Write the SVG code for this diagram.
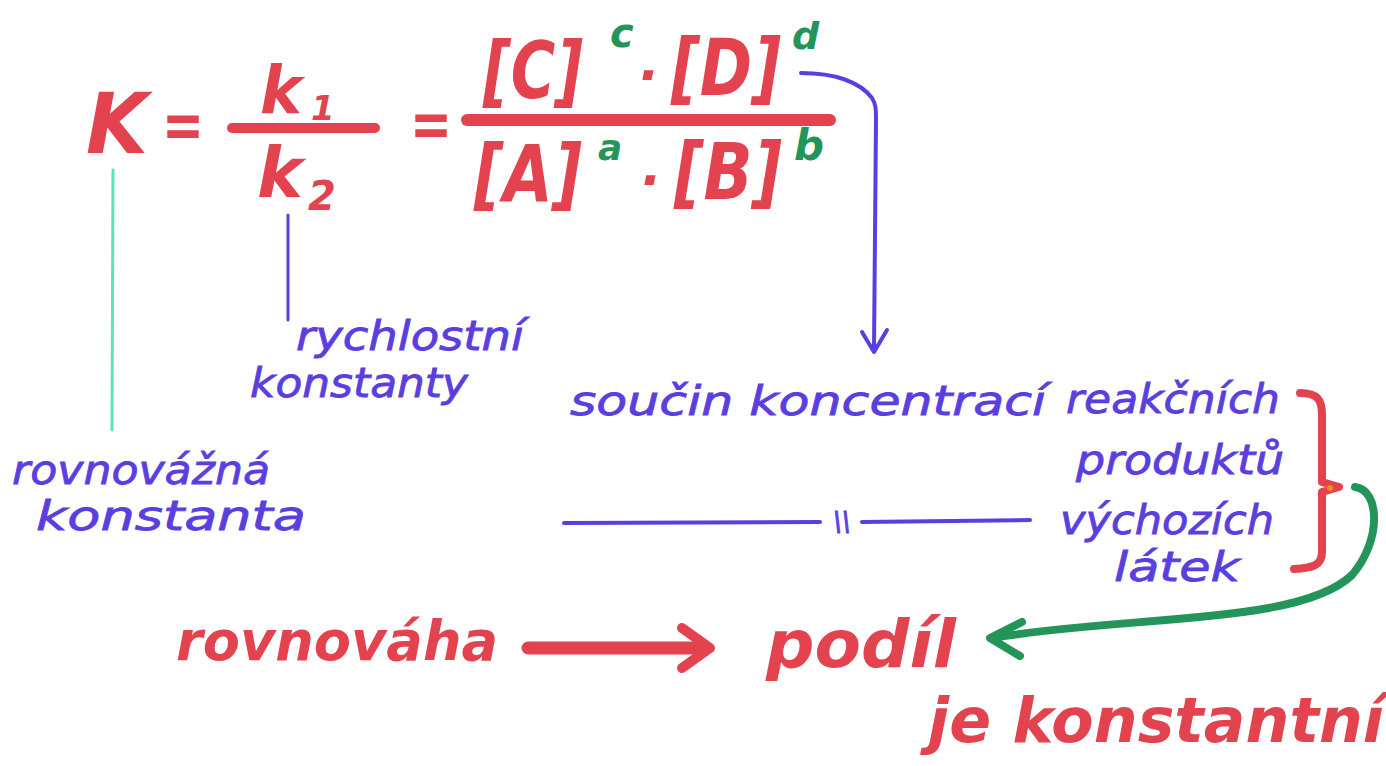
<svg xmlns="http://www.w3.org/2000/svg" width="1386" height="766" viewBox="0 0 1386 766">
<defs>
<style>
.red{fill:#e2434f;font-family:"DejaVu Sans",sans-serif;font-weight:bold;font-style:italic}
.grn{fill:#24955a;font-family:"DejaVu Sans",sans-serif;font-weight:bold;font-style:italic}
.blu{fill:#5a3ee0;font-family:"DejaVu Sans",sans-serif;font-style:italic;stroke:#5a3ee0;stroke-width:0.8}
.ln{fill:none;stroke-linecap:round;stroke-linejoin:round}
.rl{stroke:#e2434f}
.bl{stroke:#5a3ee0}
.gl{stroke:#24955a}
</style>
</defs>
<rect width="1386" height="766" fill="#ffffff"/>

<g id="formula">
<text class="red" x="86" y="153" font-size="84" textLength="62" lengthAdjust="spacingAndGlyphs">K</text>
<text class="red" x="162" y="148" font-size="66" textLength="42" lengthAdjust="spacingAndGlyphs">=</text>
<text class="red" x="260" y="113" font-size="66" textLength="42" lengthAdjust="spacingAndGlyphs">k</text>
<text class="red" x="311" y="120" font-size="34">1</text>
<line class="ln rl" x1="232" y1="128" x2="375" y2="128" stroke-width="10"/>
<text class="red" x="257" y="197" font-size="70" textLength="46" lengthAdjust="spacingAndGlyphs">k</text>
<text class="red" x="308" y="210" font-size="40">2</text>
<text class="red" x="410" y="147" font-size="66" textLength="42" lengthAdjust="spacingAndGlyphs">=</text>
<text class="red" x="483" y="98" font-size="78" textLength="100" lengthAdjust="spacingAndGlyphs">[C]</text>
<text class="grn" x="610" y="47" font-size="40">c</text>
<text class="red" x="648" y="93" font-size="52" text-anchor="middle">·</text>
<text class="red" x="671" y="95" font-size="78" textLength="110" lengthAdjust="spacingAndGlyphs">[D]</text>
<text class="grn" x="792" y="49" font-size="38">d</text>
<line class="ln rl" x1="467" y1="120" x2="830" y2="120" stroke-width="12"/>
<text class="red" x="474" y="201" font-size="78" textLength="108" lengthAdjust="spacingAndGlyphs">[A]</text>
<text class="grn" x="598" y="160" font-size="36">a</text>
<text class="red" x="650" y="198" font-size="52" text-anchor="middle">·</text>
<text class="red" x="674" y="199" font-size="78" textLength="108" lengthAdjust="spacingAndGlyphs">[B]</text>
<text class="grn" x="794" y="160" font-size="42">b</text>
</g>

<g id="label-rychlostni">
<text class="blu" x="296" y="350" font-size="40" textLength="228" lengthAdjust="spacingAndGlyphs">rychlostní</text>
<text class="blu" x="250" y="397" font-size="40" textLength="218" lengthAdjust="spacingAndGlyphs">konstanty</text>
</g>

<g id="label-rovnovazna">
<text class="blu" x="12" y="484" font-size="40" textLength="258" lengthAdjust="spacingAndGlyphs">rovnovážná</text>
<text class="blu" x="36" y="530" font-size="40" textLength="270" lengthAdjust="spacingAndGlyphs">konstanta</text>
</g>

<g id="label-soucin">
<text class="blu" x="570" y="415" font-size="40" textLength="476" lengthAdjust="spacingAndGlyphs">součin koncentrací</text>
<text class="blu" x="1066" y="413" font-size="40" textLength="214" lengthAdjust="spacingAndGlyphs">reakčních</text>
<text class="blu" x="1076" y="474" font-size="40" textLength="208" lengthAdjust="spacingAndGlyphs">produktů</text>
<text class="blu" x="1060" y="534" font-size="40" textLength="214" lengthAdjust="spacingAndGlyphs">výchozích</text>
<text class="blu" x="1114" y="581" font-size="40" textLength="126" lengthAdjust="spacingAndGlyphs">látek</text>
<text class="blu" x="833" y="531" font-size="26">\\</text>
</g>

<g id="label-bottom">
<text class="red" x="176" y="660" font-size="56" textLength="322" lengthAdjust="spacingAndGlyphs">rovnováha</text>
<text class="red" x="766" y="667" font-size="66" textLength="190" lengthAdjust="spacingAndGlyphs">podíl</text>
<text class="red" x="928" y="742" font-size="62" textLength="456" lengthAdjust="spacingAndGlyphs">je konstantní</text>
</g>

<g id="connectors">
<line class="ln" x1="113" y1="170" x2="112" y2="430" stroke="#5fe3b4" stroke-width="3"/>
<line class="ln bl" x1="288" y1="215" x2="288" y2="320" stroke-width="3"/>
<path class="ln bl" d="M801,73 C835,73 860,82 872,98 C876,104 876,110 876,120 L874,350" stroke-width="4"/>
<path class="ln bl" d="M862,332 L874,352 L887,330" stroke-width="4"/>
<line class="ln bl" x1="564" y1="523" x2="820" y2="522" stroke-width="4"/>
<line class="ln bl" x1="862" y1="522" x2="1030" y2="520" stroke-width="4"/>
<path class="ln rl" d="M1300,393 C1318,393 1322,400 1322,415 L1322,482 L1339,487 L1322,492 L1322,552 C1322,566 1312,568 1294,569" stroke-width="8"/>
<circle cx="1330" cy="488" r="3" fill="#f08a2a"/>
<path class="ln gl" d="M1355,487 C1380,490 1382,540 1352,575 C1300,625 1130,615 992,638" stroke-width="8"/>
<path class="ln gl" d="M1022,622 L990,638 L1020,656" stroke-width="8"/>
<line class="ln rl" x1="528" y1="648" x2="704" y2="648" stroke-width="13"/>
<path class="ln rl" d="M682,628 L710,648 L682,668" stroke-width="10"/>
</g>
</svg>
